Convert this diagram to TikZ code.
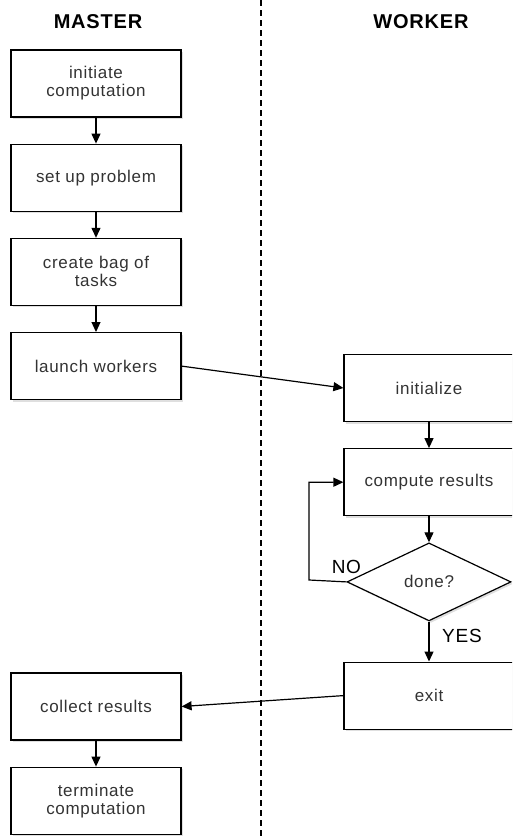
\documentclass[tikz,border=0pt]{standalone}
\usepackage{fontspec}
\setmainfont{Liberation Sans}[LetterSpace=4]
\usetikzlibrary{positioning, arrows.meta, shapes.geometric, shadows}

\begin{document}
\begin{tikzpicture}[
    x=1pt, y=-1pt,
    node distance=26pt,
    box/.style={draw, line width=1.2pt, fill=white, minimum width=170pt,
                minimum height=67pt, align=center, text=black!80,
                font=\fontsize{17}{18}\selectfont,
                drop shadow={shadow xshift=2pt, shadow yshift=-2pt, opacity=0.25}},
    decision/.style={box, diamond, minimum width=164pt, minimum height=78pt,
                     inner sep=0pt},
    head/.style={font=\bfseries\fontsize{20}{22}\selectfont},
    lbl/.style={font=\fontsize{19}{20}\selectfont, inner sep=0pt},
    arrow/.style={-{Triangle[length=10pt, width=9pt]}, line width=1.2pt},
    divider/.style={line width=1.5pt, dash pattern=on 6pt off 4pt},
]
\useasboundingbox (0,0) rectangle (512,839);
\clip (0,0) rectangle (512,839);

% ── Lane headers and divider ─────────────────────────────────────────────
\node[head] (mhead) at (98,22) {MASTER};
\node[head] (whead) at (421,22) {WORKER};
\coordinate (divtop) at (261,0);
\coordinate (divbot) at (261,839);
\draw[divider] (divtop) -- (divbot);

% ── Master lane ──────────────────────────────────────────────────────────
\node[box] (init) at (96,83.5) {initiate\\computation};
\node[box, below=of init] (setup) {set up problem};
\node[box, below=of setup] (bag) {create bag of\\tasks};
\node[box, below=of bag] (launch) {launch workers};

\node[box] (collect) at (96,706.5) {collect results};
\node[box, below=of collect] (term) {terminate\\computation};

% ── Worker lane ──────────────────────────────────────────────────────────
\node[box] (wini) at (429,388) {initialize};
\node[box, below=of wini] (compute) {compute results};
\node[decision, below=26pt of compute] (done) {done?};
\node[box, below=40pt of done] (exit) {exit};

% ── Connectors ───────────────────────────────────────────────────────────
\foreach \a/\b in {init/setup, setup/bag, bag/launch, collect/term,
                   wini/compute, compute/done, done/exit}
    \draw[arrow] (\a) -- (\b);
\draw[arrow] (launch.east) -- (wini.west);
\draw[arrow] (exit.west) -- (collect.east);
\coordinate (loop) at (309,580);
\draw[arrow] (done.west) -- (loop) |- (compute.west);

\node[lbl, above=8pt of done.west] (no) {NO};
\node[lbl] (yes) at (462,636) {YES};
\end{tikzpicture}
\end{document}
